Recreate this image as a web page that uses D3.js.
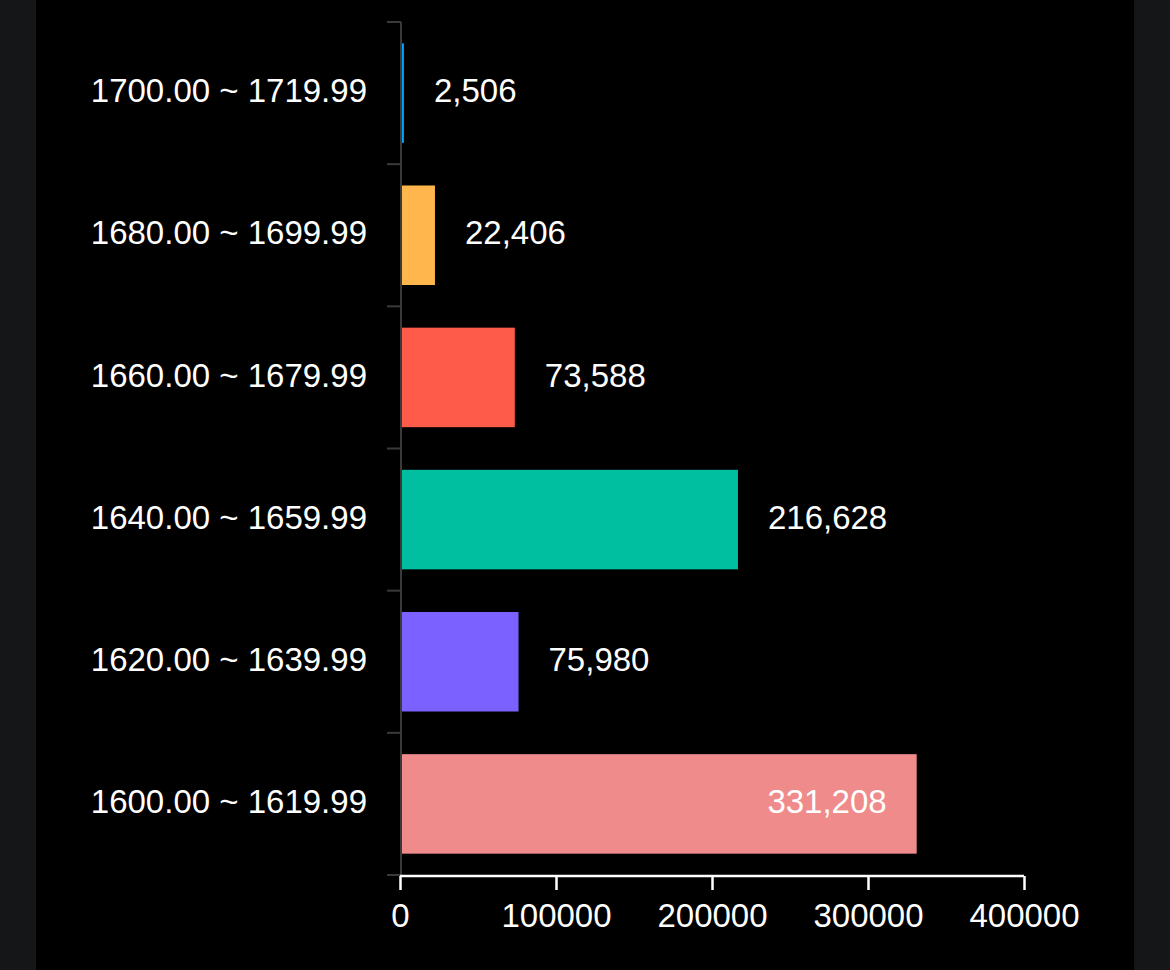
<!DOCTYPE html>
<html><head><meta charset="utf-8">
<script src="https://cdn.jsdelivr.net/npm/d3@7"></script>
<style>
html,body{margin:0;padding:0;background:#151618;}
svg{display:block;}
</style></head>
<body>
<svg id="chart" width="1170" height="970"></svg>
<script>
const categories = ["1700.00 ~ 1719.99","1680.00 ~ 1699.99","1660.00 ~ 1679.99","1640.00 ~ 1659.99","1620.00 ~ 1639.99","1600.00 ~ 1619.99"];
const values = [2506, 22406, 73588, 216628, 75980, 331208];
const colors = ["#00a3ff","#ffb74d","#ff5b4b","#00bfa0","#7b61ff","#f08b8b"];
const xTicks = [0, 100000, 200000, 300000, 400000];

(function(){
const svg = d3.select("#chart");
svg.append("rect").attr("x",36).attr("y",0).attr("width",1098).attr("height",970).attr("fill","#000");

const pLeft = 400, pRight = 1024, pTop = 22, pBottom = 875;
const x = d3.scaleLinear().domain([0, 400000]).range([pLeft, pRight]);
const y = d3.scaleBand().domain(categories).range([pTop, pBottom]).paddingInner(0.3).paddingOuter(0.15);

const font = "'Liberation Sans', Arial, sans-serif";

// bars
svg.append("g").selectAll("rect").data(values).join("rect")
  .attr("x", x(0) + 1.5)
  .attr("y", (d,i) => y(categories[i]))
  .attr("width", d => Math.max(0, x(d) - x(0) - 1.5))
  .attr("height", y.bandwidth())
  .attr("fill", (d,i) => colors[i]);

// y axis
const yAxis = svg.append("g").attr("transform", `translate(${pLeft + 1},0)`);
yAxis.append("line").attr("x1",0).attr("x2",0).attr("y1",pTop).attr("y2",pBottom).attr("stroke","#3a3a3a").attr("stroke-width",2);
const bounds = d3.range(categories.length + 1).map(i => pTop + i * (pBottom - pTop) / categories.length);
yAxis.selectAll("line.t").data(bounds).join("line").attr("class","t")
  .attr("x1",-14).attr("x2",0).attr("y1",d=>d).attr("y2",d=>d)
  .attr("stroke","#3a3a3a").attr("stroke-width",2);
yAxis.selectAll("text").data(categories).join("text")
  .attr("x", -34).attr("y", d => y(d) + y.bandwidth()/2)
  .attr("dy","0.28em").attr("text-anchor","end")
  .attr("fill","#fff").attr("font-family",font).attr("font-size","33px")
  .text(d => d);

// x axis
const xAxis = svg.append("g").attr("transform", `translate(0,${pBottom + 1})`)
  .call(d3.axisBottom(x).tickValues(xTicks).tickFormat(d3.format("d")).tickSize(14).tickPadding(14));
xAxis.select(".domain").attr("stroke","#fff").attr("stroke-width",2.5).attr("d", `M${pLeft},0H${pRight}`);
xAxis.selectAll(".tick line").attr("stroke","#fff").attr("stroke-width",2.5);
xAxis.selectAll(".tick text").attr("fill","#fff").attr("font-family",font).attr("font-size","33px");

// value labels
const fmt = d3.format(",");
svg.append("g").selectAll("text").data(values).join("text")
  .each(function(d,i){
    const t = d3.select(this)
      .attr("y", y(categories[i]) + y.bandwidth()/2)
      .attr("dy","0.28em")
      .attr("fill","#fff").attr("font-family",font).attr("font-size","33px")
      .text(fmt(d));
    const w = this.getComputedTextLength();
    if (x(d) + 30 + w > pRight) {
      t.attr("x", x(d) - 30).attr("text-anchor","end");
    } else {
      t.attr("x", x(d) + 30).attr("text-anchor","start");
    }
  });
})();
</script>
</body></html>
